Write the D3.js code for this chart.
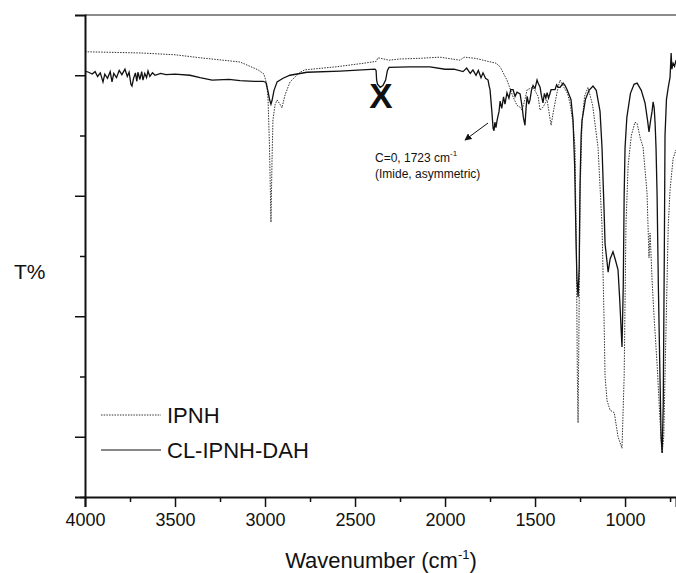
<!DOCTYPE html>
<html lang="en">
<head>
  <meta charset="UTF-8">
  <title>FTIR IPNH / CL-IPNH-DAH</title>
  <style>
    body { margin: 0; background: #fff; }
    svg { display: block; font-family: 'Liberation Sans', Arial, sans-serif; }
  </style>
  <script src="https://cdn.jsdelivr.net/npm/d3@7"></script>
</head>
<body>
<svg width="676" height="573"></svg>
<script>
  // IPNH spectrum (dotted) : [wavenumber, T%]
  const ipnh = [
    [4000,73.9],[3694,73.7],[3500,73.4],[3361,72.9],[3139,72.2],[3039,70.9],[3006,70.2],[2990,68.5],
    [2983,65.9],[2975,58],[2967,45.6],[2961,56],[2956,62.6],[2944,65.1],[2933,65.9],[2917,65.2],
    [2906,64.6],[2889,66.7],[2861,68.9],[2806,70.5],[2778,70.9],[2606,71.4],[2450,72.0],[2383,72.3],
    [2372,72.9],[2311,72.5],[2250,72.7],[2150,72.8],[2028,73.0],[1917,72.5],[1894,73.0],[1830,72.8],
    [1761,72.3],[1717,72.0],[1694,71.4],[1656,69.2],[1622,66.4],[1600,65.0],[1583,64.7],[1572,64.2],
    [1556,66.0],[1544,67.6],[1511,68.0],[1483,66.5],[1472,64.2],[1456,64.7],[1433,65.9],[1411,61.7],
    [1395,64.5],[1372,68.0],[1361,69.2],[1340,68.0],[1320,67.0],[1306,65.4],[1289,62],[1278,58],
    [1270,40],[1265,20],[1261,12.3],[1257,25],[1250,50],[1239,62.2],[1225,66.5],[1206,68.0],
    [1180,65],[1150,58],[1128,45],[1117,30],[1111,20],[1100,16],[1083,14.4],[1060,14.0],
    [1039,10],[1017,8.1],[1005,20],[995,45],[983,55],[965,60],[945,62.2],[933,62],[915,59.5],
    [900,58.1],[889,54.3],[878,50.5],[867,39.7],[861,43.8],[856,40.5],[850,36],[839,30],[822,22],
    [806,12.8],[794,7.3],[785,10],[775,24.4],[760,45],[750,51.0],[733,56.2],[717,57.6]
  ];

  // CL-IPNH-DAH spectrum (solid) : [wavenumber, T%]
  const clIpnhDah = [
    [4000,70.7],[3980,70.5],[3960,70.2],[3944,70.6],[3930,69.8],[3915,70.4],[3900,68.9],[3890,70.2],
    [3875,69.5],[3860,70.6],[3850,68.9],[3840,70.3],[3825,69.6],[3810,70.8],[3795,70.1],[3778,71.0],
    [3765,69.8],[3755,70.5],[3745,68.5],[3739,68.2],[3730,69.5],[3720,70.4],[3712,69.0],[3706,70.5],
    [3695,69.3],[3685,70.6],[3678,69.2],[3668,70.3],[3658,69.6],[3650,70.7],[3640,69.8],[3625,70.4],
    [3611,70.0],[3580,70.3],[3550,70.1],[3500,70.2],[3417,70.0],[3361,69.6],[3294,69.2],[3200,69.3],
    [3139,69.1],[3060,69.0],[3011,69.0],[2995,68.8],[2983,67.3],[2975,66.0],[2967,65.2],[2961,65.8],
    [2950,67.5],[2933,68.9],[2900,69.5],[2861,70.0],[2767,70.5],[2583,70.7],[2389,71.0],[2383,70.8],
    [2380,69.2],[2375,68.5],[2360,68.0],[2345,68.3],[2330,69.2],[2320,70.8],[2311,71.3],[2200,71.4],
    [2083,71.4],[2000,71.0],[1950,71.0],[1900,70.6],[1880,71.2],[1860,70.3],[1845,70.9],[1828,70.0],
    [1815,70.8],[1800,69.6],[1789,70.4],[1775,69.5],[1761,69.2],[1755,68.2],[1750,67.6],[1740,64],
    [1733,61.2],[1728,60.8],[1723,62.2],[1717,61.3],[1711,62.5],[1700,64.0],[1694,65.7],[1685,64.5],
    [1675,66.4],[1667,65.2],[1656,67.1],[1645,66.2],[1635,67.6],[1622,67.6],[1611,66.5],[1600,67.2],
    [1583,66.9],[1572,64.8],[1565,63.0],[1556,61.7],[1550,64.5],[1544,66.5],[1535,65.2],[1528,65.9],
    [1520,67.5],[1511,68.3],[1500,67.8],[1489,69.2],[1483,68.7],[1472,68.0],[1465,66.7],[1456,65.4],
    [1448,67.0],[1440,66.2],[1433,67.1],[1425,66.2],[1411,67.6],[1400,67.6],[1389,67.6],[1380,68.4],
    [1372,68.0],[1361,68.0],[1344,68.7],[1333,68.3],[1322,67.6],[1306,66.4],[1300,65.9],[1289,62.6],
    [1280,55],[1272,42],[1267,36],[1261,33.2],[1255,38],[1250,52],[1244,60],[1239,62.5],[1220,66],
    [1200,67.5],[1178,68.2],[1160,67.5],[1139,64.0],[1128,58],[1117,48],[1111,42],[1100,39],
    [1094,37.3],[1083,39.5],[1067,40.7],[1055,39.5],[1039,37.7],[1030,33],[1017,24.9],[1010,35],
    [1005,50],[1000,58],[990,63],[970,67],[950,68.5],[933,68.7],[910,67.5],[889,65.4],[875,62.5],
    [867,60.6],[858,62.5],[850,64.0],[844,65.6],[838,64.5],[833,62],[828,58],[822,50],[815,35],
    [806,20],[800,10],[794,7.3],[788,15],[782,40],[778,60],[770,66],[760,68],[750,69.7],[744,73.7],
    [740,71],[733,72.0],[725,71.5],[717,72.5]
  ];

  const xMajor = [4000, 3500, 3000, 2500, 2000, 1500, 1000];
  const xMinor = [3750, 3250, 2750, 2250, 1750, 1250, 750];
  const yMajor = [10, 30, 50, 70];
  const yMinor = [0, 20, 40, 60];

  const svg = d3.select("svg");
  const m = { left: 85, right: 676, top: 15, bottom: 497 };

  const x = d3.scaleLinear().domain([4000, 717]).range([m.left, m.right]);
  const y = d3.scaleLinear().domain([0, 80]).range([m.bottom, m.top]);

  const defs = svg.append("defs");
  defs.append("clipPath").attr("id", "plot")
    .append("rect").attr("x", m.left).attr("y", m.top)
    .attr("width", m.right - m.left).attr("height", m.bottom - m.top);

  // top frame line
  svg.append("line")
    .attr("x1", m.left).attr("x2", m.right).attr("y1", m.top).attr("y2", m.top)
    .attr("stroke", "#666").attr("stroke-width", 1.5);

  const line = d3.line().x(d => x(d[0])).y(d => y(d[1]));

  const g = svg.append("g").attr("clip-path", "url(#plot)");
  g.append("path").datum(ipnh)
    .attr("d", line).attr("fill", "none")
    .attr("stroke", "#333").attr("stroke-width", 1)
    .attr("stroke-dasharray", "1.5,1.2");
  g.append("path").datum(clIpnhDah)
    .attr("d", line).attr("fill", "none")
    .attr("stroke", "#111").attr("stroke-width", 1.3);

  // axes
  const xAxis = svg.append("g").attr("transform", `translate(0,${m.bottom})`)
    .call(d3.axisBottom(x).tickValues(xMajor).tickSize(10).tickPadding(6).tickFormat(d3.format("d")));
  svg.append("g").attr("transform", `translate(0,${m.bottom})`)
    .call(d3.axisBottom(x).tickValues(xMinor).tickSize(5).tickFormat(""))
    .select(".domain").remove();
  xAxis.select(".domain").attr("stroke", "#111").attr("stroke-width", 2);

  const yAxis = svg.append("g").attr("transform", `translate(${m.left},0)`)
    .call(d3.axisLeft(y).tickValues(yMajor).tickSize(10).tickFormat(""));
  svg.append("g").attr("transform", `translate(${m.left},0)`)
    .call(d3.axisLeft(y).tickValues(yMinor).tickSize(5).tickFormat(""))
    .select(".domain").remove();
  yAxis.select(".domain").attr("stroke", "#111").attr("stroke-width", 2);
  svg.selectAll(".tick line").attr("stroke", "#111").attr("stroke-width", 1.5);
  svg.selectAll(".tick text").attr("font-family", "'Liberation Sans', Arial, sans-serif")
    .attr("font-size", 18).attr("fill", "#111");

  // axis titles
  svg.append("text").attr("x", 14).attr("y", 279)
    .attr("font-size", 21).attr("fill", "#111").text("T%");
  const xt = svg.append("text").attr("x", 381).attr("y", 568)
    .attr("text-anchor", "middle").attr("font-size", 22).attr("fill", "#111");
  xt.append("tspan").text("Wavenumber (cm");
  xt.append("tspan").attr("font-size", 13).attr("dy", -9).text("-1");
  xt.append("tspan").attr("dy", 9).text(")");

  // annotations
  svg.append("text").attr("x", 381).attr("y", 108)
    .attr("text-anchor", "middle").attr("font-size", 35).attr("font-weight", "bold")
    .attr("fill", "#111").text("X");

  defs.append("marker").attr("id", "arrow")
    .attr("viewBox", "0 0 10 10").attr("refX", 9).attr("refY", 5)
    .attr("markerWidth", 7).attr("markerHeight", 7).attr("orient", "auto")
    .append("path").attr("d", "M0,0L10,5L0,10z").attr("fill", "#111");
  svg.append("line")
    .attr("x1", 488).attr("y1", 123).attr("x2", 465).attr("y2", 140)
    .attr("stroke", "#111").attr("stroke-width", 1).attr("marker-end", "url(#arrow)");

  const ann = svg.append("text").attr("x", 375).attr("y", 162)
    .attr("font-size", 12).attr("fill", "#111");
  ann.append("tspan").text("C=0, 1723 cm");
  ann.append("tspan").attr("font-size", 8).attr("dy", -6).text("-1");
  svg.append("text").attr("x", 375).attr("y", 178)
    .attr("font-size", 12).attr("fill", "#111").text("(Imide, asymmetric)");

  // legend
  const legend = [
    { name: "IPNH", y: 415, dash: "1.5,1.2", color: "#333", w: 1 },
    { name: "CL-IPNH-DAH", y: 450, dash: null, color: "#888", w: 2 }
  ];
  legend.forEach(l => {
    svg.append("line").attr("x1", 101).attr("x2", 161).attr("y1", l.y).attr("y2", l.y)
      .attr("stroke", l.color).attr("stroke-width", l.w)
      .attr("stroke-dasharray", l.dash);
    svg.append("text").attr("x", 167).attr("y", l.y + 8)
      .attr("font-size", 22).attr("fill", "#111").text(l.name);
  });
</script>
</body>
</html>
